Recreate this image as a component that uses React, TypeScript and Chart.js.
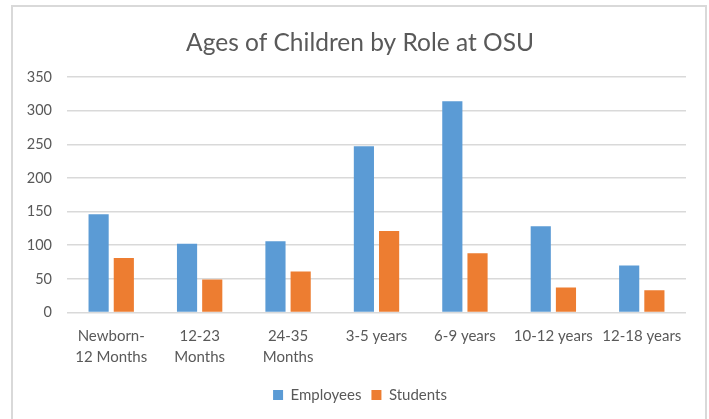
import React, { useEffect, useRef } from "react";
import { Chart, registerables } from "chart.js";

Chart.register(...registerables);

const categories: (string | string[])[] = [
  ["Newborn-", "12 Months"],
  ["12-23", "Months"],
  ["24-35", "Months"],
  "3-5 years",
  "6-9 years",
  "10-12 years",
  "12-18 years",
];
const employees = [146, 102, 106, 247, 314, 128, 70];
const students = [81, 49, 61, 121, 88, 37, 33];
const yTicks = [0, 50, 100, 150, 200, 250, 300, 350];

const FONT = "Lato, 'Open Sans', sans-serif";
const TEXT = "#595959";

const recenter = {
  id: "recenter",
  afterLayout(chart: any) {
    const left = 34;
    const right = 686;
    if (chart.titleBlock) {
      chart.titleBlock.left = left;
      chart.titleBlock.right = right;
      chart.titleBlock.width = right - left;
    }
    if (chart.legend) {
      chart.legend.left = left;
      chart.legend.right = right;
      chart.legend.width = right - left;
    }
  },
};

export default function App() {
  const ref = useRef<HTMLCanvasElement | null>(null);

  useEffect(() => {
    if (!ref.current) return;
    const chart = new Chart(ref.current, {
      type: "bar",
      data: {
        labels: categories,
        datasets: [
          {
            label: "Employees",
            data: employees,
            backgroundColor: "#5B9BD5",
            barPercentage: 0.8,
            categoryPercentage: 0.57,
          },
          {
            label: "Students",
            data: students,
            backgroundColor: "#ED7D31",
            barPercentage: 0.8,
            categoryPercentage: 0.57,
          },
        ],
      },
      plugins: [recenter],
      options: {
        responsive: false,
        animation: false,
        layout: { padding: { left: 13, right: 23, top: 0, bottom: 6.5 } },
        plugins: {
          title: {
            display: true,
            text: "Ages of Children by Role at OSU",
            color: TEXT,
            font: { family: FONT, size: 24.5, weight: "normal", lineHeight: 1.2 },
            padding: { top: 28, bottom: 19.6 },
          },
          legend: {
            position: "bottom",
            labels: {
              boxWidth: 10,
              boxHeight: 10,
              color: TEXT,
              padding: 10,
              font: { family: FONT, size: 15 },
            },
          },
          tooltip: { enabled: false },
        },
        scales: {
          x: {
            grid: { display: false, drawTicks: false },
            border: { display: false },
            ticks: {
              color: TEXT,
              font: { family: FONT, size: 15, lineHeight: 1.4 },
              padding: 13,
              maxRotation: 0,
              minRotation: 0,
              autoSkip: false,
            },
            afterFit: (s: any) => {
              s.height = 65;
            },
          },
          y: {
            min: 0,
            max: 350,
            grid: { color: "#d9d9d9", lineWidth: 1.5, drawTicks: false },
            border: { display: false },
            afterBuildTicks: (s: any) => {
              s.ticks = yTicks.map((v) => ({ value: v }));
            },
            ticks: {
              color: TEXT,
              font: { family: FONT, size: 14.5 },
              padding: 15,
            },
            afterFit: (s: any) => {
              s.width = 54;
            },
          },
        },
      },
    });
    return () => chart.destroy();
  }, []);

  return (
    <div
      style={{
        position: "fixed",
        left: 0,
        top: 0,
        width: 709,
        height: 419,
        background: "#fff",
        overflow: "hidden",
      }}
    >
      <div
        style={{
          position: "absolute",
          left: 11,
          top: 5,
          width: 692,
          height: 440,
          border: "2px solid #d9d9d9",
        }}
      />
      <canvas
        ref={ref}
        width={709}
        height={419}
        style={{ position: "absolute", left: 0, top: 0, display: "block" }}
      />
    </div>
  );
}
